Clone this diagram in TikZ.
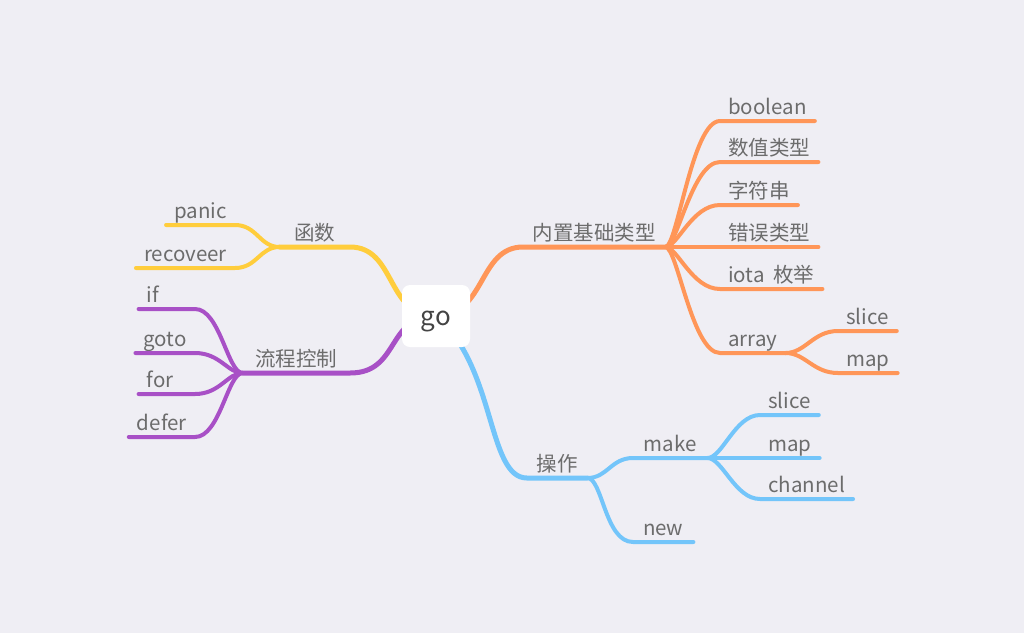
\documentclass[tikz,border=0pt]{standalone}
\usepackage{fontspec}
\setmainfont{Noto Sans CJK SC}
\definecolor{bggray}{RGB}{239,238,244}
\definecolor{txtgray}{RGB}{108,108,108}
\definecolor{rootgray}{RGB}{68,68,68}
\definecolor{typeorange}{RGB}{255,150,88}
\definecolor{funcyellow}{RGB}{255,205,60}
\definecolor{flowpurple}{RGB}{168,80,198}
\definecolor{opsblue}{RGB}{115,197,250}
\tikzstyle{topic} = [font=\fontsize{20.5}{24}\selectfont, text=txtgray, inner xsep=8pt, inner ysep=2pt, text height=15pt, text depth=4pt]
\tikzstyle{rootbox} = [rectangle, rounded corners=8pt, fill=white, minimum width=68pt, minimum height=62pt, text height=22pt, text depth=4pt, font=\fontsize{26}{30}\selectfont, text=rootgray]
\tikzstyle{branch} = [line width=5pt, line cap=round, line join=round]
\tikzstyle{twig} = [line width=4pt, line cap=round, line join=round]

\begin{document}
\begin{tikzpicture}[x=1pt, y=-1pt]
	\fill[bggray] (0,0) rectangle (1024,633);
	\coordinate (root) at (436,316);
	
	% first level
	\node (types) [topic, anchor=south west, minimum width=142pt] at (523,247) {内置基础类型};
	\node (func) [topic, anchor=south east, minimum width=70pt] at (350,247) {函数};
	\node (flow) [topic, anchor=south east, minimum width=107pt] at (350,373) {流程控制};
	\node (ops) [topic, anchor=south west, minimum width=60pt] at (527,478) {操作};
	
	% 内置基础类型
	\node (boolean) [topic, anchor=south west] at (720,121) {boolean};
	\node (number) [topic, anchor=south west] at (720,162) {数值类型};
	\node (string) [topic, anchor=south west] at (720,205) {字符串};
	\node (error) [topic, anchor=south west] at (720,247) {错误类型};
	\node (iota) [topic, anchor=south west] at (720,289) {iota\hspace{4pt} 枚举};
	\node (array) [topic, anchor=south west, minimum width=65pt] at (720,353) {array};
	\node (aslice) [topic, anchor=south west] at (838,331) {slice};
	\node (amap) [topic, anchor=south west] at (838,373) {map};
	
	% 函数
	\node (panic) [topic, anchor=south east] at (235,225) {panic};
	\node (recover) [topic, anchor=south east] at (235,268) {recoveer};
	
	% 流程控制
	\node (if) [topic, anchor=south east, text width=40pt] at (195,309) {if};
	\node (goto) [topic, anchor=south east] at (195,353) {goto};
	\node (for) [topic, anchor=south east, text width=40pt] at (195,394) {for};
	\node (defer) [topic, anchor=south east] at (195,437) {defer};
	
	% 操作
	\node (make) [topic, anchor=south west, minimum width=74pt] at (633,458) {make};
	\node (new) [topic, anchor=south west, minimum width=60pt] at (633,542) {new};
	\node (mslice) [topic, anchor=south west] at (760,415) {slice};
	\node (mmap) [topic, anchor=south west] at (760,458) {map};
	\node (channel) [topic, anchor=south west] at (760,499) {channel};
	
	\draw [branch, typeorange] (root) .. controls +(50,0) and +(-45,0) .. (types.south west) -- (types.south east);
	\draw [branch, funcyellow] (root) .. controls +(-50,0) and +(46,0) .. (func.south east) -- (func.south west);
	\draw [branch, flowpurple] (root) .. controls +(-50,0) and +(50,0) .. (flow.south east) -- (flow.south west);
	\draw [branch, opsblue] (root) .. controls +(60,50) and +(-40,0) .. (ops.south west) -- (ops.south east);
	
	\draw [twig, typeorange] (types.south east) .. controls +(12,0) and +(-28,0) .. (boolean.south west) -- (boolean.south east);
	\draw [twig, typeorange] (types.south east) .. controls +(12,0) and +(-28,0) .. (number.south west) -- (number.south east);
	\draw [twig, typeorange] (types.south east) .. controls +(12,0) and +(-28,0) .. (string.south west) -- (string.south east);
	\draw [twig, typeorange] (types.south east) -- (error.south west) -- (error.south east);
	\draw [twig, typeorange] (types.south east) .. controls +(12,0) and +(-28,0) .. (iota.south west) -- (iota.south east);
	\draw [twig, typeorange] (types.south east) .. controls +(12,0) and +(-28,0) .. (array.south west) -- (array.south east);
	\draw [twig, typeorange] (array.south east) .. controls +(20,0) and +(-25,0) .. (aslice.south west) -- (aslice.south east);
	\draw [twig, typeorange] (array.south east) .. controls +(20,0) and +(-25,0) .. (amap.south west) -- (amap.south east);
	
	\draw [twig, funcyellow] (func.south west) .. controls +(-20,0) and +(22,0) .. (panic.south east) -- (panic.south west);
	\draw [twig, funcyellow] (func.south west) .. controls +(-20,0) and +(22,0) .. (recover.south east) -- (recover.south west);
	
	\draw [twig, flowpurple] (flow.south west) .. controls +(-15,0) and +(25,0) .. (if.south east) -- (if.south west);
	\draw [twig, flowpurple] (flow.south west) .. controls +(-15,0) and +(25,0) .. (goto.south east) -- (goto.south west);
	\draw [twig, flowpurple] (flow.south west) .. controls +(-15,0) and +(25,0) .. (for.south east) -- (for.south west);
	\draw [twig, flowpurple] (flow.south west) .. controls +(-15,0) and +(25,0) .. (defer.south east) -- (defer.south west);
	
	\draw [twig, opsblue] (ops.south east) .. controls +(20,0) and +(-22,0) .. (make.south west) -- (make.south east);
	\draw [twig, opsblue] (ops.south east) .. controls +(15,0) and +(-28,0) .. (new.south west) -- (new.south east);
	\draw [twig, opsblue] (make.south east) .. controls +(15,0) and +(-25,0) .. (mslice.south west) -- (mslice.south east);
	\draw [twig, opsblue] (make.south east) -- (mmap.south west) -- (mmap.south east);
	\draw [twig, opsblue] (make.south east) .. controls +(15,0) and +(-25,0) .. (channel.south west) -- (channel.south east);
	
	\node (go) [rootbox] at (root) {go};
\end{tikzpicture}
\end{document}
